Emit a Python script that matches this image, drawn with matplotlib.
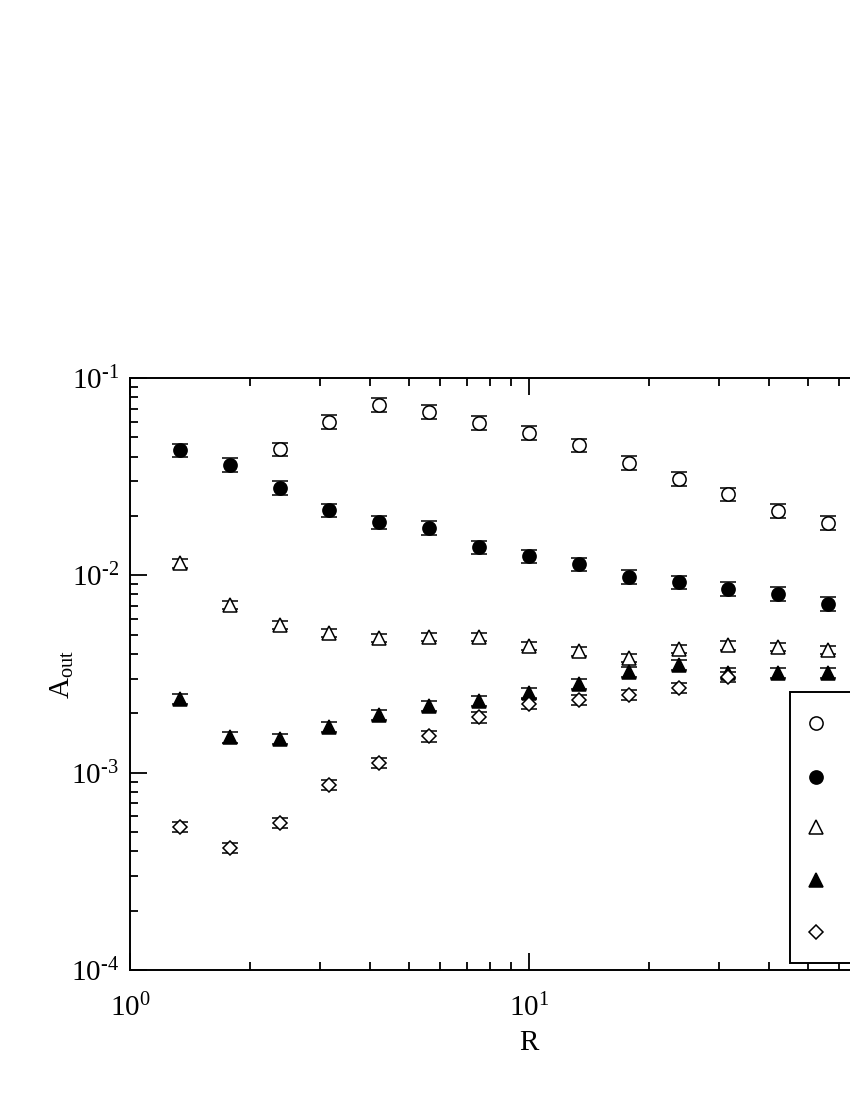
import matplotlib
matplotlib.use("Agg")
import matplotlib.pyplot as plt
from matplotlib.patches import Rectangle
import numpy as np

plt.rcParams['font.family'] = ['Liberation Serif', 'DejaVu Serif']
plt.rcParams['mathtext.fontset'] = 'custom'
plt.rcParams['mathtext.rm'] = 'Liberation Serif'
plt.rcParams['mathtext.it'] = 'Liberation Serif:italic'

# --------------------------
# Data
# --------------------------
R = [1.334, 1.778, 2.371, 3.162, 4.217, 5.623, 7.499,
     10.0, 13.34, 17.78, 23.71, 31.62, 42.17, 56.23]

open_circ = [None, None, 0.0436, 0.0598, 0.0730, 0.0673, 0.0591,
             0.0526, 0.0457, 0.0371, 0.0308, 0.0258, 0.0212, 0.0184]
fill_circ = [0.0431, 0.0362, 0.0277, 0.0214, 0.0186, 0.0174, 0.0139,
             0.0125, 0.0114, 0.0098, 0.00924, 0.00853, 0.00804, 0.00716]
open_tri = [0.01153, 0.00708, 0.00560, 0.00510, 0.00481, 0.00487, 0.00487,
            0.00438, 0.00413, 0.00381, 0.00423, 0.00443, 0.00433, 0.00418]
fill_tri = [0.00236, 0.00151, 0.00148, 0.00170, 0.00196, 0.00218, 0.00231,
            0.00253, 0.00281, 0.00324, 0.00351, 0.00320, 0.00320, 0.00320]
open_dia = [0.00053, 0.000415, 0.000556, 0.000865, 0.00112, 0.00153, 0.00191,
            0.00223, 0.00233, 0.00247, 0.00268, 0.00305, None, None]

# relative error bar size per series
rel_err = [0.08, 0.08, 0.05, 0.06, 0.06]

xtick_vals = [1, 10, 100]
xtick_text = [r'$10^{0}$', r'$10^{1}$', '']
ytick_vals = [1e-4, 1e-3, 1e-2, 1e-1]
ytick_text = [r'$10^{\text{-}4}$', r'$10^{\text{-}3}$',
              r'$10^{\text{-}2}$', r'$10^{\text{-}1}$']

series = [
    (open_circ, 'o', 'white'),
    (fill_circ, 'o', 'black'),
    (open_tri, '^', 'white'),
    (fill_tri, '^', 'black'),
    (open_dia, 'D', 'white'),
]

fig = plt.figure(figsize=(8.5, 11), dpi=100)
ax = fig.add_axes([130 / 850, 1 - 970 / 1100, 798 / 850, 592 / 1100])

for (vals, mk, fc), err in zip(series, rel_err):
    x = np.array([r for r, v in zip(R, vals) if v is not None])
    y = np.array([v for v in vals if v is not None])
    ms = 7.2 if mk == 'D' else 9.5
    ax.errorbar(x, y, yerr=y * err, fmt=mk, ms=ms, mfc=fc, mec='black',
                mew=1.1, ecolor='black', elinewidth=1.0, capsize=5.8,
                capthick=1.0, zorder=3)

ax.set_xscale('log')
ax.set_yscale('log')
ax.set_xlim(1, 100)
ax.set_ylim(1e-4, 1e-1)

ax.set_xticks(xtick_vals)
ax.set_xticklabels(xtick_text)
ax.set_yticks(ytick_vals)
ax.set_yticklabels(ytick_text)

ax.tick_params(which='both', direction='in', top=True, right=True,
               width=1.3, labelsize=21)
ax.tick_params(which='major', length=12)
ax.tick_params(which='minor', length=6)
ax.tick_params(axis='x', pad=17)
ax.tick_params(axis='y', pad=8)
for s in ax.spines.values():
    s.set_linewidth(1.4)

ax.set_xlabel('R', fontsize=21, labelpad=6)
ax.set_ylabel(r'$\mathrm{A}_{\mathrm{out}}$', fontsize=21, labelpad=-4)

# --------------------------
# Legend box (labels fall outside the page)
# --------------------------
lx0 = (790 - 130) / 798
ly0 = (970 - 963) / 592
ly1 = (970 - 692) / 592
ax.add_patch(Rectangle((lx0, ly0), 0.4, ly1 - ly0, transform=ax.transAxes,
                       facecolor='white', edgecolor='black', lw=1.4,
                       zorder=5, clip_on=False))
mx = (816 - 130) / 798
row_y = [(970 - py) / 592 for py in [723, 777, 827, 880, 932]]
for (vals, mk, fc), yy in zip(series, row_y):
    ms = 7.2 if mk == 'D' else 9.5
    ax.plot([mx], [yy], marker=mk, ms=ms, mfc=fc, mec='black', mew=1.1,
            ls='none', transform=ax.transAxes, zorder=6, clip_on=False)

fig.savefig('out.png', dpi=100)
